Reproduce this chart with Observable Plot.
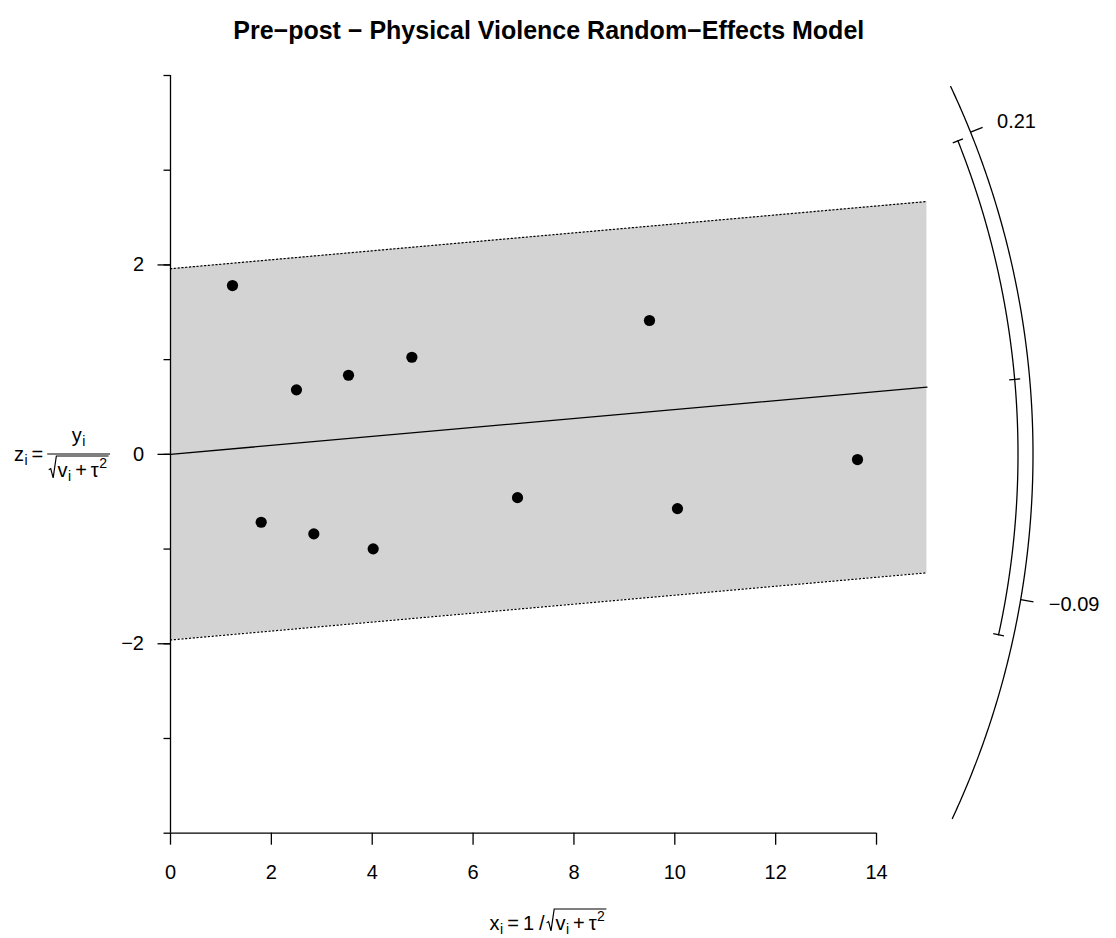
<!DOCTYPE html>
<html><head><meta charset="utf-8">
<script src="https://cdn.jsdelivr.net/npm/d3@7"></script>
<script src="https://cdn.jsdelivr.net/npm/@observablehq/plot@0.6"></script>
<style>body{margin:0;background:#fff} svg{display:block}</style>
</head><body><div id="chart"></div>
<script>
// ---- data ----
const titleText = "Pre\u2212post \u2212 Physical Violence Random\u2212Effects Model";
const xi = [1.229, 1.798, 2.498, 2.842, 3.530, 4.019, 4.786, 6.881, 9.498, 10.053, 13.623];
const zi = [1.782, -0.717, 0.681, -0.840, 0.835, -0.998, 1.025, -0.457, 1.413, -0.573, -0.055];
const estimate = 0.0473;
const ciBounds = [-0.116, 0.212];
const zCrit = 1.96;
const xMax = 15;
const arcRange = [-0.248, 0.251];
const arcTicks = [0.2144, -0.0910];
const arcTickLabels = ["0.21", "\u22120.09"];
const xTicks = [0, 2, 4, 6, 8, 10, 12, 14];
const yTicksMajor = [-2, 0, 2];
const yTicksMinor = [-4, -3, -2, -1, 0, 1, 2, 3, 4];

// ---- layout ----
const FONT = "'Liberation Sans', Arial, Helvetica, sans-serif";
const W = 1116, H = 938;
const ML = 170, MT = 75, YB = 832.7;
const XDOM = [0, 18], YDOM = [-4, 4];
const KX = 50.43;                       // px per x unit
const KZ = (YB - MT) / (YDOM[1] - YDOM[0]); // px per z unit
const MR = W - ML - (XDOM[1] - XDOM[0]) * KX;
const ASP = KZ / KX;
const R_OUT = 862.5, R_IN = 847.5, LW = 1.3;

function arcPt(y, rpx) {
  const r = rpx / KX;
  const x = r / Math.sqrt(1 + (y * ASP) ** 2);
  return {x, z: x * y};
}
function arcLine(range, rpx, n = 240) {
  const out = [];
  for (let i = 0; i <= n; i++) out.push(arcPt(range[0] + (range[1] - range[0]) * i / n, rpx));
  return out;
}

const pts = xi.map((x, i) => ({x, z: zi[i]}));
const band = [
  {x: 0, lo: -zCrit, hi: zCrit, c: 0},
  {x: xMax, lo: -zCrit + estimate * xMax, hi: zCrit + estimate * xMax, c: estimate * xMax}
];
const outerTicks = arcTicks.map((y, i) => {
  const a = arcPt(y, R_OUT), b = arcPt(y, R_OUT + 13), l = arcPt(y, R_OUT + 28.5);
  return {x1: a.x, y1: a.z, x2: b.x, y2: b.z, lx: l.x, ly: l.z, label: arcTickLabels[i]};
});
const innerTicks = [ciBounds[0], estimate, ciBounds[1]].map(y => {
  const a = arcPt(y, R_IN - 5.5), b = arcPt(y, R_IN + 5.5);
  return {x1: a.x, y1: a.z, x2: b.x, y2: b.z};
});
const fmt = d => d < 0 ? "\u2212" + Math.abs(d) : String(d);

const svg = Plot.plot({
  width: W, height: H,
  marginLeft: ML, marginRight: MR, marginTop: MT, marginBottom: H - YB,
  x: {domain: XDOM},
  y: {domain: YDOM},
  style: {fontFamily: FONT, background: "white", color: "black"},
  marks: [
    Plot.areaY(band, {x: "x", y1: "lo", y2: "hi", fill: "#d3d3d3"}),
    Plot.line(band, {x: "x", y: "hi", stroke: "black", strokeWidth: 1.2, strokeDasharray: "1.2 2.6"}),
    Plot.line(band, {x: "x", y: "lo", stroke: "black", strokeWidth: 1.2, strokeDasharray: "1.2 2.6"}),
    Plot.line(band, {x: "x", y: "c", stroke: "black", strokeWidth: LW}),
    Plot.ruleY([YDOM[0]], {x1: xTicks[0], x2: xTicks[xTicks.length - 1], stroke: "black", strokeWidth: LW}),
    Plot.ruleX([0], {y1: YDOM[0], y2: YDOM[1], stroke: "black", strokeWidth: LW}),
    Plot.axisX(xTicks, {anchor: "bottom", tickSize: 12, tickPadding: 20, fontSize: 20, label: null, tickFormat: fmt, strokeWidth: LW}),
    Plot.axisY(yTicksMinor, {anchor: "left", tickSize: 6.5, tickFormat: () => "", label: null, strokeWidth: LW}),
    Plot.axisY(yTicksMajor, {anchor: "left", tickSize: 12.5, tickPadding: 14, fontSize: 20, label: null, tickFormat: fmt, strokeWidth: LW}),
    Plot.dot(pts, {x: "x", y: "z", r: 5.6, fill: "black", stroke: "none"}),
    Plot.line(arcLine(arcRange, R_OUT), {x: "x", y: "z", stroke: "black", strokeWidth: LW}),
    Plot.link(outerTicks, {x1: "x1", y1: "y1", x2: "x2", y2: "y2", stroke: "black", strokeWidth: LW}),
    Plot.text(outerTicks, {x: "lx", y: "ly", text: "label", textAnchor: "start", lineAnchor: "middle", fontSize: 20, fill: "black"}),
    Plot.line(arcLine(ciBounds, R_IN), {x: "x", y: "z", stroke: "black", strokeWidth: LW}),
    Plot.link(innerTicks, {x1: "x1", y1: "y1", x2: "x2", y2: "y2", stroke: "black", strokeWidth: LW}),
    Plot.text([titleText], {x: () => xMax / 2, frameAnchor: "top", dy: -45, fontSize: 25, fontWeight: "bold", fill: "black", lineAnchor: "middle"})
  ]
});
document.getElementById("chart").appendChild(svg);

// ---- math axis labels (plotmath-like) ----
const root = d3.select(svg);
function row(g, items, x, y) {
  let cx = x;
  for (const it of items) {
    if (it.gap) cx += it.gap;
    if (it.t !== undefined) {
      const t = g.append("text").attr("x", cx).attr("y", y + (it.shift || 0))
        .attr("text-anchor", "start")
        .attr("font-size", it.size || 20).attr("font-family", FONT).attr("fill", "black").text(it.t);
      cx += t.node().getComputedTextLength();
    } else if (it.sqrt) {
      const s = 20, rw = 0.44 * s;
      const w = row(g, it.sqrt, cx + rw, y);
      const top = y - it.top;
      g.append("path")
        .attr("d", `M${cx},${y - 0.36 * s} L${cx + 0.1 * s},${y - 0.42 * s} L${cx + 0.22 * s},${y + 0.04 * s} L${cx + 0.38 * s},${top} L${cx + rw + w + 1.5},${top}`)
        .attr("fill", "none").attr("stroke", "black").attr("stroke-width", 1.2);
      cx += rw + w + 1.5;
    } else if (it.frac) {
      const gn = g.append("g"), gd = g.append("g");
      const wn = row(gn, it.frac.num, 0, 0), wd = row(gd, it.frac.den, 0, 0);
      const Wd = Math.max(wn, wd) + 3;
      gn.attr("transform", `translate(${cx + (Wd - wn) / 2},${y + it.numDy})`);
      gd.attr("transform", `translate(${cx + (Wd - wd) / 2},${y + it.denDy})`);
      g.append("line").attr("x1", cx).attr("x2", cx + Wd).attr("y1", y + it.barDy).attr("y2", y + it.barDy)
        .attr("stroke", "black").attr("stroke-width", 1.2);
      cx += Wd;
    }
  }
  return cx - x;
}
function placeCentered(items, cxPos, baseline) {
  const g = root.append("g");
  const w = row(g, items, 0, baseline);
  g.attr("transform", `translate(${cxPos - w / 2},0)`);
}
const sub = t => ({t, size: 14, shift: 4, gap: 0.5});
const radicand = [{t: "v"}, sub("i"), {t: "+", gap: 4}, {t: "\u03C4", gap: 4}, {t: "2", size: 14, shift: -9, gap: 0.5}];

placeCentered([
  {t: "z"}, sub("i"), {t: "=", gap: 4},
  {gap: 4, frac: {num: [{t: "y"}, sub("i")], den: [{sqrt: radicand, top: 21}]}, numDy: -19, denDy: 16, barDy: -7}
], 62, 461);

placeCentered([
  {t: "x"}, sub("i"), {t: "=", gap: 4}, {t: "1", gap: 4}, {t: "/", gap: 5},
  {gap: 2, sqrt: radicand, top: 21}
], 548, 930);
</script>
</body></html>
